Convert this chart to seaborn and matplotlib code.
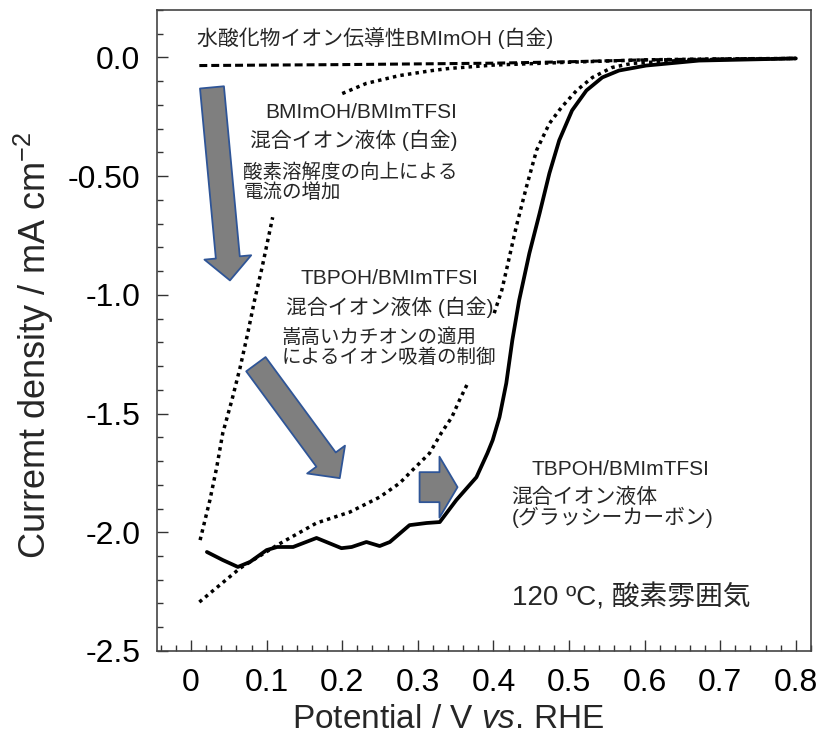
import numpy as np
import pandas as pd
import matplotlib
matplotlib.use("Agg")
import matplotlib.pyplot as plt
import seaborn as sns
from matplotlib.ticker import MultipleLocator, FixedLocator, FixedFormatter

# ---------------- data ----------------
# BMImOH (Pt) - dashed
x_oh = [0.011, 0.1, 0.2, 0.3, 0.4, 0.5, 0.6, 0.7, 0.8]
y_oh = [-0.034, -0.032, -0.030, -0.027, -0.024, -0.018, -0.010, -0.006, -0.004]

# BMImOH/BMImTFSI (Pt) - dotted (segment 1 hidden behind text)
x_mix = [0.012, 0.025, 0.034, 0.042, 0.054, 0.065, 0.075, 0.084, 0.094, 0.108,
         0.200, 0.232, 0.276, 0.319, 0.342, 0.400, 0.500, 0.600, 0.700, 0.800]
y_mix = [-2.033, -1.864, -1.726, -1.582, -1.444, -1.305, -1.162, -1.023, -0.884, -0.673,
         -0.152, -0.109, -0.076, -0.055, -0.046, -0.032, -0.020, -0.010, -0.006, -0.004]
seg_mix = [0] * 10 + [1] * 10

# TBPOH/BMImTFSI (Pt) - dotted
x_tb = [0.011, 0.065, 0.114, 0.166, 0.210, 0.2495, 0.276, 0.293, 0.3155, 0.331, 0.345, 0.355, 0.366,
        0.401, 0.411, 0.418, 0.430, 0.4435, 0.457, 0.474, 0.490, 0.510, 0.531, 0.557, 0.583, 0.650, 0.700, 0.800]
y_tb = [-2.294, -2.151, -2.054, -1.961, -1.915, -1.852, -1.793, -1.738, -1.667, -1.582, -1.515, -1.444, -1.372,
        -1.077, -0.981, -0.884, -0.715, -0.547, -0.391, -0.278, -0.210, -0.139, -0.084, -0.042, -0.025, -0.012, -0.008, -0.004]
seg_tb = [0] * 13 + [1] * 15

# TBPOH/BMImTFSI (glassy carbon) - solid
x_gc = [0.021, 0.042, 0.062, 0.078, 0.100, 0.114, 0.135, 0.166, 0.199, 0.2125, 0.232, 0.2495, 0.263,
        0.289, 0.3115, 0.329, 0.351, 0.3775, 0.392, 0.399, 0.408, 0.417, 0.425, 0.434, 0.4475, 0.461,
        0.474, 0.487, 0.504, 0.523, 0.544, 0.566, 0.602, 0.672, 0.800]
y_gc = [-2.083, -2.117, -2.146, -2.125, -2.075, -2.062, -2.062, -2.024, -2.067, -2.062, -2.041, -2.058, -2.041,
        -1.970, -1.961, -1.957, -1.864, -1.768, -1.667, -1.612, -1.515, -1.372, -1.191, -1.023, -0.825, -0.657,
        -0.488, -0.349, -0.223, -0.139, -0.084, -0.055, -0.034, -0.013, -0.004]

x_ticks = [0, 0.1, 0.2, 0.3, 0.4, 0.5, 0.6, 0.7, 0.8]
x_ticklabels = ["0", "0.1", "0.2", "0.3", "0.4", "0.5", "0.6", "0.7", "0.8"]
y_ticks = [0.0, -0.5, -1.0, -1.5, -2.0, -2.5]
y_ticklabels = ["0.0", "-0.50", "-1.0", "-1.5", "-2.0", "-2.5"]

# ---------------- style ----------------
sns.set_theme(style="ticks")
plt.rcParams['font.family'] = ['Liberation Sans', 'Noto Sans CJK JP', 'DejaVu Sans']
plt.rcParams['axes.unicode_minus'] = False
plt.rcParams['mathtext.fontset'] = 'custom'
plt.rcParams['mathtext.rm'] = 'Liberation Sans'
plt.rcParams['mathtext.it'] = 'Liberation Sans:italic'
plt.rcParams['mathtext.default'] = 'regular'

fig = plt.figure(figsize=(8.19, 7.41), dpi=100)
ax = fig.add_axes([0.1917, 0.1215, 0.7985, 0.865])

df_oh = pd.DataFrame({"x": x_oh, "y": y_oh})
df_mix = pd.DataFrame({"x": x_mix, "y": y_mix, "seg": seg_mix})
df_tb = pd.DataFrame({"x": x_tb, "y": y_tb, "seg": seg_tb})
df_gc = pd.DataFrame({"x": x_gc, "y": y_gc})

sns.lineplot(data=df_oh, x="x", y="y", ax=ax, color="black", lw=2.2,
             linestyle=(0, (2.6, 1.3)), sort=False, estimator=None)
sns.lineplot(data=df_mix, x="x", y="y", units="seg", ax=ax, color="black", lw=2.5,
             linestyle=(0, (1, 1.2)), sort=False, estimator=None)
sns.lineplot(data=df_tb, x="x", y="y", units="seg", ax=ax, color="black", lw=2.5,
             linestyle=(0, (1, 1.2)), sort=False, estimator=None)
sns.lineplot(data=df_gc, x="x", y="y", ax=ax, color="black", lw=2.7,
             linestyle="-", sort=False, estimator=None)

ax.set_xlim(-0.045, 0.82)
ax.set_ylim(-2.5, 0.2)

ax.xaxis.set_major_locator(FixedLocator(x_ticks))
ax.xaxis.set_major_formatter(FixedFormatter(x_ticklabels))
ax.xaxis.set_minor_locator(MultipleLocator(0.02))
ax.yaxis.set_major_locator(FixedLocator(y_ticks))
ax.yaxis.set_major_formatter(FixedFormatter(y_ticklabels))
ax.yaxis.set_minor_locator(MultipleLocator(0.1))

ax.tick_params(which="both", direction="in", top=False, right=False, colors="#333333",
               labelcolor="black", labelsize=23, pad=12)
ax.tick_params(which="major", length=8, width=1.0)
ax.tick_params(which="minor", length=4, width=1.0)
for s in ax.spines.values():
    s.set_linewidth(1.2)
    s.set_color("#444444")
    s.set_visible(True)

ax.set_xlabel("Potential / V $\\mathit{vs}$. RHE", fontsize=24)
ax.xaxis.set_label_coords(0.445, -0.083)
ax.set_ylabel("Curremt density / mA cm$^{-2}$", fontsize=26)
ax.yaxis.set_label_coords(-0.154, 0.477)

# ---------------- annotations ----------------
fs = 15
ax.text(0.008, 0.084, "水酸化物イオン伝導性BMImOH (白金)", fontsize=fs, ha="left", va="center")
ax.text(0.352, -0.231, "BMImOH/BMImTFSI", fontsize=fs, ha="right", va="center")
ax.text(0.352, -0.35, "混合イオン液体 (白金)", fontsize=fs, ha="right", va="center")
ax.text(0.069, -0.528, "酸素溶解度の向上による\n電流の増加", fontsize=14, ha="left", va="center",
        linespacing=1.1)
ax.text(0.263, -0.93, "TBPOH/BMImTFSI", fontsize=fs, ha="center", va="center")
ax.text(0.263, -1.05, "混合イオン液体 (白金)", fontsize=fs, ha="center", va="center")
ax.text(0.120, -1.223, "嵩高いカチオンの適用\nによるイオン吸着の制御", fontsize=14, ha="left", va="center",
        linespacing=1.15)
ax.text(0.450, -1.734, "TBPOH/BMImTFSI", fontsize=fs, ha="left", va="center")
ax.text(0.424, -1.81, "混合イオン液体\n(グラッシーカーボン)", fontsize=fs, ha="left", va="top",
        linespacing=1.0)
ax.text(0.424, -2.277, "120 ºC, 酸素雰囲気", fontsize=20, ha="left", va="center")

arrow_kw = dict(fc="#7f7f7f", ec="#2f5597", lw=1.3, shrinkA=0, shrinkB=0, mutation_scale=10)
ax.annotate("", xy=(0.0515, -0.939), xytext=(0.0277, -0.126),
            arrowprops=dict(arrowstyle="simple,head_length=1.66,head_width=3.38,tail_width=1.73", **arrow_kw))
ax.annotate("", xy=(0.1967, -1.772), xytext=(0.0858, -1.292),
            arrowprops=dict(arrowstyle="simple,head_length=1.66,head_width=3.38,tail_width=1.73", **arrow_kw))
ax.annotate("", xy=(0.3525, -1.810), xytext=(0.3023, -1.810),
            arrowprops=dict(arrowstyle="simple,head_length=1.3,head_width=4.39,tail_width=2.16", **arrow_kw))

fig.savefig("out.png", dpi=100)
